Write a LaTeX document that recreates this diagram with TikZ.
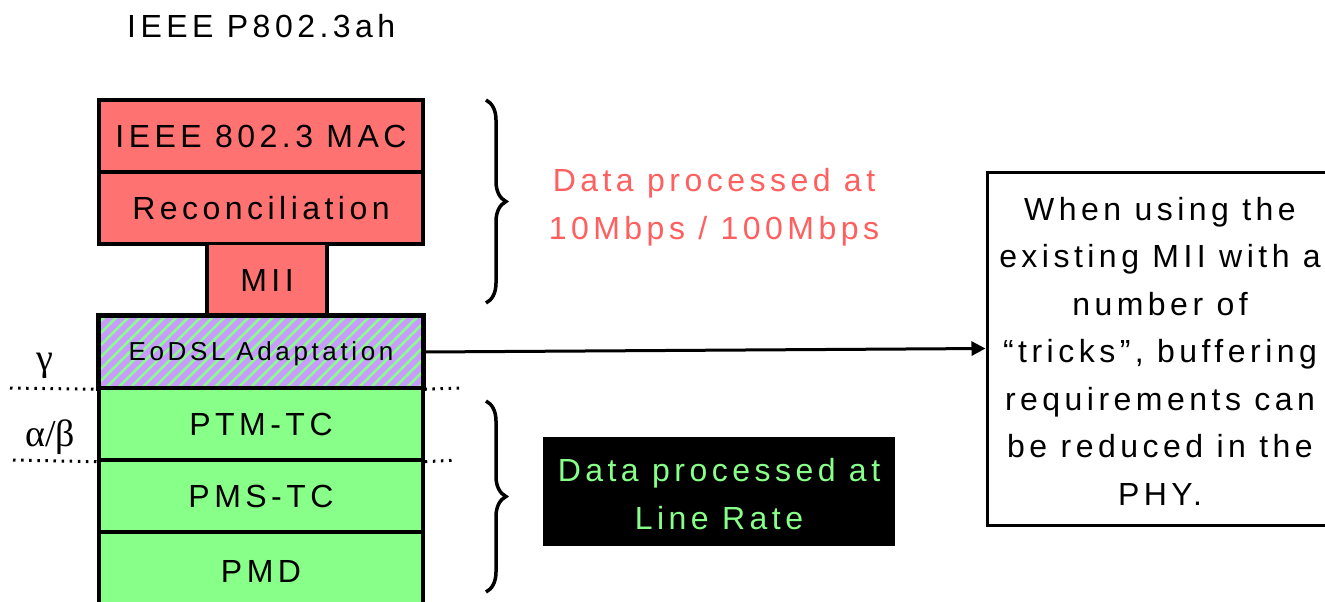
\documentclass[tikz,border=0pt]{standalone}
\usepackage{fontspec}
\setmainfont{Liberation Sans}[LetterSpace=14]
\newfontfamily\greekfont{Liberation Serif}
\usetikzlibrary{patterns.meta,decorations.pathreplacing,arrows.meta}
\definecolor{layerred}{HTML}{FF7272}
\definecolor{layergreen}{HTML}{88FF88}
\definecolor{layerpurple}{HTML}{C99BFF}
\definecolor{salmon}{HTML}{FF5F5F}
\tikzset{
  layer/.style={draw=black, line width=3.5pt, minimum width=324pt, minimum height=72pt, inner sep=0pt, font=\fontsize{32}{36}\selectfont},
  redlayer/.style={layer, fill=layerred},
  greenlayer/.style={layer, fill=layergreen},
  dotline/.style={line width=3pt, dash pattern=on 2.5pt off 5.6pt},
  bracestyle/.style={decorate, decoration={brace, amplitude=20pt}, line width=3.5pt},
  textbig/.style={font=\fontsize{32}{47.5}\selectfont, align=center, inner sep=0pt},
}
\begin{document}
\begin{tikzpicture}[x=1pt,y=-1pt]
\useasboundingbox (0,0) rectangle (1325,602);
\node[font=\fontsize{32}{36}\selectfont, anchor=west, inner sep=0pt] (title) at (127,26) {IEEE P802.3ah};
\node[redlayer] (mac) at (261,136) {IEEE 802.3 MAC};
\node[redlayer] (rec) at (261,208) {Reconciliation};
\node[redlayer, minimum width=120pt, minimum height=73pt] (mii) at (267,280) {MII};
\node[layer, preaction={fill=layerpurple}, pattern={Lines[angle=45,distance=8.5pt,line width=2.6pt]}, pattern color=layergreen] (eod) at (261,352) {};
\node[layer, draw=none, font=\fontsize{26}{30}\selectfont] (eodt) at (261,354) {EoDSL Adaptation};
\draw[line width=3.5pt] (eod.north west) rectangle (eod.south east);
\node[greenlayer] (ptm) at (261,424) {PTM-TC};
\node[greenlayer] (pms) at (261,496) {PMS-TC};
\node[greenlayer, minimum height=78pt] (pmd) at (261,571) {PMD};
% dotted reference lines
\coordinate (g1) at (10,388);
\coordinate (g2) at (460,388);
\coordinate (a1) at (13,460);
\coordinate (a2) at (456,460);
\draw[dotline] (g1) -- (eod.south west);
\draw[dotline] (eod.south east) -- (g2);
\draw[dotline] (a1) -- (ptm.south west);
\draw[dotline] (ptm.south east) -- (a2);
\node[font=\greekfont\fontsize{38}{40}\selectfont, inner sep=0pt] (gamma) at (45,366) {\addfontfeatures{LetterSpace=0}γ};
\node[font=\greekfont\fontsize{38}{40}\selectfont, inner sep=0pt] (ab) at (50,437) {\addfontfeatures{LetterSpace=0}α/β};
% braces
\coordinate (b1a) at (486,100);
\coordinate (b1b) at (486,303);
\coordinate (b2a) at (486,401);
\coordinate (b2b) at (486,592);
\draw[bracestyle] (b1a) -- (b1b);
\draw[bracestyle] (b2a) -- (b2b);
\node[textbig, text=salmon] (rate1) at (714,207) {Data processed at\\10Mbps / 100Mbps};
\node[fill=black, minimum width=352pt, minimum height=109pt, inner sep=0pt] (lr) at (719,491) {};
\node[textbig, text=layergreen] (lrt) at (719,494) {Data processed at\\Line Rate};
% right note
\node[draw=black, line width=3pt, minimum width=346pt, minimum height=353pt, inner sep=0pt] (note) at (1160,348.5) {};
\node[textbig] (notet) at (1160,351) {When using the\\existing MII with a\\number of\\“tricks”, buffering\\requirements can\\be reduced in the\\PHY.};
\draw[line width=3pt, -{Triangle[length=14pt,width=14pt]}] (eod.east) -- (note.west);
\end{tikzpicture}
\end{document}
